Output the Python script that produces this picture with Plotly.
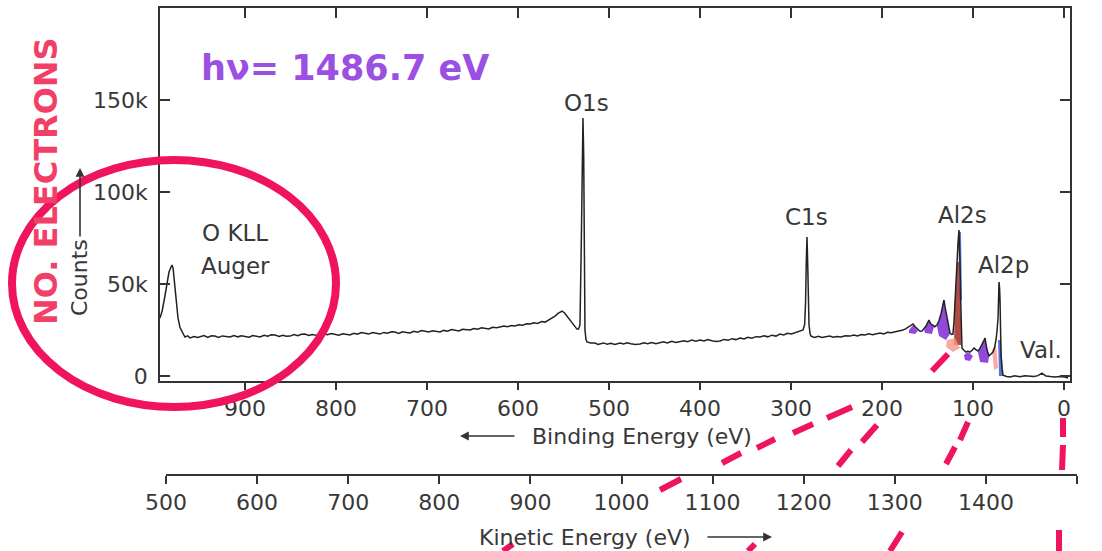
import plotly.graph_objects as go

# ---- survey spectrum (binding energy in eV, intensity in thousands of counts) ----
binding_energy = [
    993.4, 991.0, 988.5, 986.0, 983.5, 981.5, 980.2, 979.0, 977.5, 975.8, 973.6, 971.5, 970.3,
    968.0, 965.9, 963.0, 960.4, 956.0, 952.0, 949.5, 945.0, 941.0, 937.0, 933.0, 929.0, 925.0,
    920.5, 916.5, 912.0, 908.0, 904.0, 900.0, 895.5, 891.5, 887.5, 883.5, 879.0, 875.0, 871.0,
    867.0, 862.5, 858.5, 854.5, 850.5, 846.0, 842.0, 838.0, 834.1, 830.0, 826.0, 821.5, 817.6,
    813.5, 809.5, 805.0, 801.1, 797.0, 792.5, 788.5, 784.6, 780.5, 776.5, 772.0, 768.1, 764.0,
    760.0, 755.5, 751.6, 747.5, 743.5, 739.0, 735.2, 731.0, 727.0, 722.5, 718.7, 714.5, 710.5,
    706.0, 702.2, 698.0, 694.0, 689.5, 685.7, 681.5, 677.5, 673.0, 669.2, 665.0, 661.0, 656.5,
    652.7, 648.5, 644.5, 640.0, 636.3, 632.0, 628.0, 623.5, 619.8, 615.5, 611.5, 607.0, 603.3,
    599.0, 595.0, 590.5, 586.8, 582.5, 578.5, 574.0, 570.3, 566.0, 562.0, 559.3, 556.0, 553.5,
    551.6, 549.0, 546.2, 543.5, 540.7, 538.0, 535.2, 533.5, 531.9, 530.5, 529.5, 528.6, 527.8,
    527.2, 526.4, 525.3, 524.2, 520.0, 515.4, 512.0, 509.9, 506.0, 502.0, 498.0, 493.5, 487.9,
    484.0, 480.0, 476.0, 471.0, 465.9, 461.5, 457.5, 453.0, 448.5, 444.0, 440.0, 436.0, 431.0,
    426.5, 422.0, 417.5, 413.5, 409.0, 404.5, 400.0, 395.5, 391.5, 387.0, 382.5, 378.0, 373.5,
    369.0, 365.0, 360.5, 356.0, 351.5, 347.5, 343.0, 338.5, 334.1, 329.5, 325.5, 321.0, 316.5,
    312.1, 308.0, 304.0, 299.5, 295.6, 291.5, 288.5, 286.8, 285.0, 284.0, 283.2, 282.4, 281.6,
    280.8, 280.2, 279.0, 278.0, 274.0, 270.0, 266.0, 262.0, 257.5, 253.5, 249.5, 245.0, 240.5,
    235.2, 231.0, 227.0, 222.5, 218.7, 214.5, 210.5, 206.0, 202.2, 198.0, 194.0, 190.0, 185.7,
    181.5, 176.9, 174.0, 171.4, 168.5, 165.9, 163.5, 160.4, 158.0, 156.0, 154.0, 151.6, 149.8,
    148.4, 146.5, 144.0, 142.0, 139.6, 137.4, 135.2, 133.5, 131.9, 130.5, 128.6, 127.0, 125.3,
    123.5, 122.0, 120.8, 119.8, 118.7, 117.6, 116.5, 115.4, 114.8, 114.3, 113.7, 113.2, 112.1,
    110.0, 107.7, 105.5, 103.3, 101.0, 98.9, 96.5, 94.5, 92.3, 90.1, 88.5, 86.8, 85.6, 84.6,
    82.4, 80.2, 78.0, 76.3, 74.7, 73.5, 72.5, 71.9, 71.4, 70.8, 70.3, 69.8, 69.2, 68.0, 67.0,
    63.0, 59.3, 54.0, 48.4, 43.0, 37.4, 33.0, 28.6, 26.0, 24.2, 22.0, 19.8, 15.0, 9.9, 5.0,
    -1.1, -4.4,
]
counts_k = [
    31.5, 35.5, 42.0, 48.5, 56.5, 59.0, 60.3, 58.5, 51.0, 41.3, 31.5, 26.5, 25.0,
    23.0, 21.2, 21.8, 20.7, 21.5, 20.9, 21.2, 22.0, 21.0, 21.9, 21.7, 21.0, 21.8,
    21.4, 21.2, 22.0, 21.3, 21.9, 21.7, 21.1, 22.0, 21.4, 21.2, 22.1, 21.6, 22.4,
    22.3, 21.5, 22.2, 21.6, 21.7, 22.5, 21.9, 22.7, 22.8, 22.0, 22.6, 22.1, 22.3,
    23.0, 22.4, 23.1, 22.8, 22.2, 23.0, 22.5, 22.3, 23.2, 22.7, 23.6, 23.4, 22.8,
    23.6, 23.1, 22.8, 23.7, 23.3, 24.1, 23.9, 23.2, 24.0, 23.6, 23.4, 24.3, 23.8,
    24.7, 24.5, 23.9, 24.6, 24.2, 23.9, 24.8, 24.4, 25.3, 25.0, 24.5, 25.4, 25.1,
    25.0, 25.8, 25.4, 26.2, 26.1, 25.6, 26.5, 26.3, 26.6, 27.2, 26.8, 27.5, 27.2,
    27.9, 27.6, 28.4, 28.3, 28.9, 28.6, 29.6, 29.3, 30.5, 31.4, 32.6, 34.0, 35.0,
    35.3, 34.4, 32.6, 30.5, 28.8, 27.0, 25.5, 25.5, 27.7, 70.0, 125.0, 140.2, 120.0,
    60.0, 25.0, 20.0, 18.5, 18.0, 17.9, 17.2, 17.4, 18.0, 17.3, 17.8, 17.2, 17.9,
    17.4, 18.1, 17.5, 17.2, 17.4, 18.1, 17.6, 18.2, 17.5, 17.9, 18.6, 18.0, 18.9,
    18.2, 18.5, 19.2, 18.7, 19.5, 18.9, 19.6, 19.0, 19.8, 19.2, 18.8, 19.0, 19.9,
    19.4, 20.3, 19.8, 20.7, 20.1, 21.0, 20.5, 21.4, 21.2, 21.9, 21.3, 22.2, 21.7,
    22.8, 22.3, 23.2, 22.8, 23.4, 24.0, 24.5, 25.0, 28.0, 40.0, 62.0, 75.5, 60.0,
    35.0, 27.7, 23.0, 21.7, 21.0, 21.6, 21.0, 21.4, 21.8, 21.1, 21.5, 21.2, 21.9,
    21.7, 22.3, 21.8, 22.5, 22.3, 22.9, 22.5, 23.2, 23.4, 22.9, 23.8, 23.5, 23.9,
    24.4, 25.0, 25.6, 26.6, 27.5, 28.3, 26.8, 25.0, 24.2, 24.5, 25.6, 27.2, 29.0,
    30.4, 28.4, 27.2, 26.8, 27.7, 30.0, 33.7, 37.5, 41.3, 37.0, 31.5, 26.5, 23.4,
    22.6, 22.8, 30.0, 41.3, 52.0, 62.0, 72.0, 79.3, 72.0, 62.0, 45.0, 30.4, 15.2,
    14.0, 13.0, 13.5, 13.0, 14.0, 15.2, 14.2, 13.6, 15.0, 16.8, 18.8, 20.7, 17.0, 14.1,
    10.9, 11.8, 13.0, 15.5, 19.6, 25.0, 31.5, 42.0, 51.1, 48.0, 41.3, 25.0, 11.4, 4.0, 0.5,
    -0.2, -0.5, 0.1, -0.4, 0.2, 0.0, -0.3, 0.2, 1.0, 1.6, 0.8, 0.0, -0.3, -0.5, -0.2,
    -0.5, -1.1,
]

# ---- highlighter marks over the Al region (binding energy, thousands of counts) ----
purple_marks = [
    ([170.3, 165.9, 160.4, 163.7, 170.3], [25.0, 27.7, 24.5, 22.8, 23.4]),
    ([153.8, 148.4, 142.9, 145.1, 152.7], [25.0, 29.9, 26.6, 22.8, 23.4]),
    ([139.6, 135.2, 131.9, 128.6, 125.3, 129.7, 137.4], [27.2, 33.2, 40.2, 31.5, 22.8, 19.6, 21.7]),
    ([109.9, 105.5, 100.0, 103.3, 108.8], [11.4, 13.0, 10.9, 8.2, 8.7]),
    ([94.5, 86.8, 82.4, 83.5, 92.3], [13.0, 20.1, 10.9, 7.1, 7.6]),
]
brown_mark = ([120.9, 119.8, 117.6, 115.4, 113.2, 113.2], [16.8, 41.3, 62.0, 62.0, 30.4, 16.8])
blue_marks = [
    ([116.5, 113.2, 112.1, 114.3], [78.3, 78.3, 41.3, 41.3]),
    ([72.5, 69.2, 67.0, 71.4], [19.6, 19.6, 0.0, 0.0]),
]
pink_marks = [
    ([128.6, 119.8, 114.3, 122.0, 129.7], [19.6, 20.7, 15.2, 13.0, 15.8]),
    ([79.1, 74.7, 72.5, 76.9], [14.1, 16.8, 4.3, 3.3]),
]

# ---- peak labels ----
peak_labels = ["O1s", "C1s", "Al2s", "Al2p", "Val."]
peak_label_be = [525.0, 283.5, 112.0, 66.0, 25.0]
peak_label_k = [148.4, 86.4, 87.5, 60.3, 14.1]

be_ticks = [900, 800, 700, 600, 500, 400, 300, 200, 100, 0]
ke_ticks = [500, 600, 700, 800, 900, 1000, 1100, 1200, 1300, 1400, 1500]
count_ticks = [0, 50, 100, 150]
count_tick_text = ["0", "50k", "100k", "150k"]

W, H = 1102, 551
INK = "#333333"
TXT = "#383838"
MARKER_RED = "#F0145F"
FONT = "DejaVu Sans"


def px(x, y):
    """Pixel position on the page -> paper coordinates."""
    return x / W, 1 - y / H


def page_text(x, y, text, size, color=TXT, angle=0, family=FONT):
    a, b = px(x, y)
    fig.add_annotation(x=a, y=b, xref="paper", yref="paper", text=text, showarrow=False,
                       xanchor="center", yanchor="middle", textangle=angle,
                       font=dict(family=family, size=size, color=color))


def page_arrow(x_tip, y_tip, dx, dy):
    a, b = px(x_tip, y_tip)
    fig.add_annotation(x=a, y=b, xref="paper", yref="paper", text="", showarrow=True,
                       ax=dx, ay=dy, arrowhead=2, arrowsize=1.1, arrowwidth=1.6, arrowcolor=INK)


fig = go.Figure()

for xs, ys in purple_marks:
    fig.add_trace(go.Scatter(x=xs, y=ys, fill="toself", mode="none",
                             fillcolor="rgba(128,40,215,0.85)", hoverinfo="skip", showlegend=False))
fig.add_trace(go.Scatter(x=brown_mark[0], y=brown_mark[1], fill="toself", mode="none",
                         fillcolor="rgba(170,55,45,0.9)", hoverinfo="skip", showlegend=False))
for xs, ys in pink_marks:
    fig.add_trace(go.Scatter(x=xs, y=ys, fill="toself", mode="none",
                             fillcolor="rgba(245,150,140,0.8)", hoverinfo="skip", showlegend=False))
for xs, ys in blue_marks:
    fig.add_trace(go.Scatter(x=xs, y=ys, fill="toself", mode="none",
                             fillcolor="rgba(55,90,210,0.85)", hoverinfo="skip", showlegend=False))

fig.add_trace(go.Scatter(x=binding_energy, y=counts_k, mode="lines",
                         line=dict(color="#222222", width=1.5), showlegend=False))

# companion axes: inward ticks along the top edge, and the kinetic-energy scale
fig.add_trace(go.Scatter(x=[], y=[], xaxis="x3", yaxis="y", showlegend=False))
fig.add_trace(go.Scatter(x=[], y=[], xaxis="x2", yaxis="y2", showlegend=False))

for lbl, bx, cy in zip(peak_labels, peak_label_be, peak_label_k):
    fig.add_annotation(x=bx, y=cy, text=lbl, showarrow=False, xanchor="center", yanchor="middle",
                       font=dict(family=FONT, size=23, color=TXT))

page_text(235, 233, "O KLL", 23)
page_text(235, 266, "Auger", 23)

# axis titles with arrows
page_text(642, 436, "Binding Energy (eV)", 22)
page_arrow(460, 436, 56, 0)
page_text(585, 537, "Kinetic Energy (eV)", 22)
page_arrow(772, 537, -66, 0)
page_text(79, 278, "Counts", 22, angle=-90)
page_arrow(80, 168, 0, 70)

# handwritten notes
page_text(345, 68, "<b>hν= 1486.7 eV</b>", 35, color="#9B4FE3")
page_text(46, 181, "<b>NO. ELECTRONS</b>", 32, color="#F23F68", angle=-90)

shapes = []
e0 = px(12, 407)
e1 = px(336, 160)
shapes.append(dict(type="circle", xref="paper", yref="paper", x0=e0[0], y0=e0[1], x1=e1[0], y1=e1[1],
                   line=dict(color=MARKER_RED, width=8), layer="above"))

# hand-drawn dashed guide strokes
strokes = [
    (932, 371, 948, 354), (827, 418, 852, 407), (793, 433, 813, 424), (757, 448, 775, 439),
    (722, 463, 741, 453), (660, 490, 681, 479), (503, 551, 513, 544),
    (877, 425, 862, 442), (851, 450, 838, 466), (748, 551, 755, 544),
    (968, 422, 960, 440), (955, 447, 946, 464), (890, 551, 902, 532),
    (1063, 418, 1063, 437), (1063, 445, 1062, 470), (1059, 530, 1059, 551),
]
for x1, y1, x2, y2 in strokes:
    a = px(x1, y1)
    b = px(x2, y2)
    shapes.append(dict(type="line", xref="paper", yref="paper", x0=a[0], y0=a[1], x1=b[0], y1=b[1],
                       line=dict(color=MARKER_RED, width=6), layer="above"))

be_range = [993.4, -6.6]
fig.update_layout(
    width=W, height=H,
    margin=dict(l=0, r=0, t=0, b=0),
    paper_bgcolor="white", plot_bgcolor="white",
    showlegend=False,
    shapes=shapes,
    xaxis=dict(domain=[160 / W, 1070 / W], range=be_range, tickvals=be_ticks,
               ticks="outside", ticklen=7, tickwidth=1.5, tickcolor=INK,
               showline=True, linewidth=1.8, linecolor=INK, mirror=True,
               showgrid=False, zeroline=False, automargin=False,
               tickfont=dict(family=FONT, size=22, color=TXT)),
    xaxis3=dict(overlaying="x", anchor="y", side="top", range=be_range, tickvals=be_ticks,
                ticks="inside", ticklen=10, tickwidth=1.5, tickcolor=INK,
                showticklabels=False, showline=False, showgrid=False, zeroline=False),
    yaxis=dict(domain=[1 - 381 / H, 1 - 8 / H], range=[-2.7, 200.0], tickvals=count_ticks,
               ticktext=count_tick_text, ticks="inside", ticklen=10, tickwidth=1.5, tickcolor=INK,
               showline=True, linewidth=1.8, linecolor=INK, mirror="ticks",
               showgrid=False, zeroline=False, automargin=False, ticklabelstandoff=6,
               tickfont=dict(family=FONT, size=22, color=TXT)),
    xaxis2=dict(domain=[166 / W, 1077 / W], range=[500, 1500], tickvals=ke_ticks, anchor="y2",
                ticks="outside", ticklen=8, tickwidth=1.5, tickcolor=INK,
                showline=True, linewidth=1.8, linecolor=INK,
                showgrid=False, zeroline=False, automargin=False,
                tickfont=dict(family=FONT, size=22, color=TXT)),
    yaxis2=dict(domain=[1 - 474 / H, 1 - 470 / H], visible=False, range=[0, 1]),
)

fig.write_html("out.html")
